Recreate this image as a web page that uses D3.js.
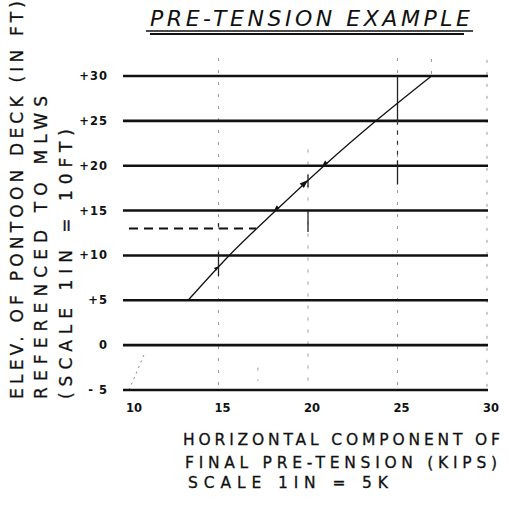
<!DOCTYPE html>
<html>
<head>
<meta charset="utf-8">
<script src="https://cdn.jsdelivr.net/npm/d3@7"></script>
<style>
  html, body { margin: 0; padding: 0; background: #fff; }
  svg { display: block; }
  text { font-family: "DejaVu Sans", "Liberation Sans", sans-serif; fill: #111; }
</style>
</head>
<body>
<svg id="chart" width="509" height="506"></svg>
<script>
// Elevation tick values (ft) and tension tick values (kips)
const elevTicks = [-5, 0, 5, 10, 15, 20, 25, 30];
const elevTickLabels = ["- 5", "0", "+5", "+10", "+15", "+20", "+25", "+30"];
const tensionTicks = [10, 15, 20, 25, 30];
const tensionTickLabels = ["10", "15", "20", "25", "30"];

// Pre-tension curve: horizontal component (kips) vs deck elevation (ft)
const curveTension = [13.3, 15.6, 18.2, 20.9, 23.8, 26.9];
const curveElev = [5, 10, 15, 20, 25, 30];

// Worked example: deck at +13 ft reads off about 17 kips
const exampleElev = 13;
const exampleTension = 17.1;

// Construction marks on the verticals (kips, from ft, to ft)
const markTension = [25, 25, 20, 20, 15, 15];
const markFrom = [30, 20.6, 19.0, 15.0, 13.6, 10.4];
const markTo = [25, 17.9, 17.6, 12.6, 13.2, 7.7];

// Faint pencil guides (kips, from ft, to ft)
const guideTension = [15, 20, 25, 30, 26.9, 17.2];
const guideFrom = [32, 21.8, 32, 31.8, 31.9, -2.5];
const guideTo = [-5, -5, -5, -5, 30, -4];

const svg = d3.select("#chart");

const x = d3.scaleLinear().domain([10, 30]).range([129, 487]);
const y = d3.scaleLinear().domain([-5, 30]).range([390, 76]);

// Title
svg.append("text")
  .attr("x", 150).attr("y", 26)
  .attr("font-size", 22).attr("font-style", "italic")
  .attr("textLength", 320).attr("lengthAdjust", "spacing")
  .text("PRE-TENSION EXAMPLE");
svg.append("line").attr("x1", 146).attr("x2", 473).attr("y1", 31).attr("y2", 31)
  .attr("stroke", "#111").attr("stroke-width", 1.4);
svg.append("line").attr("x1", 150).attr("x2", 464).attr("y1", 34).attr("y2", 34)
  .attr("stroke", "#111").attr("stroke-width", 2.2);

// Faint dotted guides
const guides = svg.append("g");
guideTension.forEach((t, i) => {
  guides.append("line")
    .attr("x1", x(t)).attr("x2", x(t))
    .attr("y1", y(guideFrom[i])).attr("y2", y(guideTo[i]))
    .attr("stroke", "#999").attr("stroke-width", 1)
    .attr("stroke-dasharray", "3,9");
});
// faint extension of the curve below +5
guides.append("line")
  .attr("x1", x(10)).attr("y1", y(-5))
  .attr("x2", x(10.9)).attr("y2", y(-0.8))
  .attr("stroke", "#888").attr("stroke-width", 1)
  .attr("stroke-dasharray", "2,4");

// Horizontal grid lines at each elevation tick
const grid = svg.append("g");
grid.selectAll("line").data(elevTicks).join("line")
  .attr("x1", x(10) - 6).attr("x2", x(30) + 1)
  .attr("y1", d => y(d)).attr("y2", d => y(d))
  .attr("stroke", "#111").attr("stroke-width", 2.6);

// Elevation tick labels
svg.append("g").selectAll("text").data(elevTicks).join("text")
  .attr("x", 108).attr("y", d => y(d) + 4)
  .attr("text-anchor", "end")
  .attr("font-size", 11.5).attr("font-weight", "bold")
  .attr("letter-spacing", 1)
  .text((d, i) => elevTickLabels[i]);

// Tension tick labels
svg.append("g").selectAll("text").data(tensionTicks).join("text")
  .attr("x", d => x(d) + (d === 10 ? 5 : 4)).attr("y", 412)
  .attr("text-anchor", "middle")
  .attr("font-size", 11.5).attr("font-weight", "bold")
  .text((d, i) => tensionTickLabels[i]);

// Construction marks
const marks = svg.append("g");
markTension.forEach((t, i) => {
  marks.append("line")
    .attr("x1", x(t)).attr("x2", x(t))
    .attr("y1", y(markFrom[i])).attr("y2", y(markTo[i]))
    .attr("stroke", "#222").attr("stroke-width", 1.3);
});
// dashes between the solid marks on the 25-kip vertical
marks.append("line")
  .attr("x1", x(25)).attr("x2", x(25))
  .attr("y1", y(25)).attr("y2", y(20.6))
  .attr("stroke", "#333").attr("stroke-width", 1.2)
  .attr("stroke-dasharray", "4,6");

// Example read-off: dashed line at +13 ft
svg.append("line")
  .attr("x1", x(10)).attr("x2", x(exampleTension))
  .attr("y1", y(exampleElev)).attr("y2", y(exampleElev))
  .attr("stroke", "#111").attr("stroke-width", 2)
  .attr("stroke-dasharray", "9,6");

// Pre-tension curve
const pts = curveTension.map((t, i) => [t, curveElev[i]]);
svg.append("path")
  .datum(pts)
  .attr("fill", "none").attr("stroke", "#111").attr("stroke-width", 1.3)
  .attr("d", d3.line().curve(d3.curveMonotoneX).x(d => x(d[0])).y(d => y(d[1])));

// Arrowheads along the curve
function arrowAt(tx, ey, dirSign, size) {
  // direction follows the overall slope of the curve
  const ang = Math.atan2(y(30) - y(5), x(26.9) - x(13.3)) + (dirSign < 0 ? Math.PI : 0);
  const px = x(tx), py = y(ey);
  const a1 = ang + Math.PI - 0.35, a2 = ang + Math.PI + 0.35;
  svg.append("path")
    .attr("d", `M${px},${py}L${px + size * Math.cos(a1)},${py + size * Math.sin(a1)}L${px + size * Math.cos(a2)},${py + size * Math.sin(a2)}Z`)
    .attr("fill", "#111");
}
arrowAt(20.0, 18.4, 1, 9);
arrowAt(20.8, 20.0, -1, 6);
arrowAt(18.1, 15.0, -1, 6);
arrowAt(15.0, 8.8, 1, 5);

// Y-axis titles (rotated, three lines)
const yTitles = [
  { text: "ELEV. OF PONTOON DECK (IN FT)", cx: 23, len: 398 },
  { text: "REFERENCED TO MLWS", cx: 47, len: 303 },
  { text: "(SCALE 1IN = 10FT)", cx: 72, len: 270 }
];
yTitles.forEach(t => {
  svg.append("text")
    .attr("transform", `translate(${t.cx},399) rotate(-90)`)
    .attr("font-size", 17)
    .attr("stroke", "#111").attr("stroke-width", 0.3)
    .attr("textLength", t.len).attr("lengthAdjust", "spacing")
    .text(t.text);
});

// X-axis titles
const xTitles = [
  { text: "HORIZONTAL COMPONENT OF", x0: 183, yb: 445, len: 317 },
  { text: "FINAL PRE-TENSION (KIPS)", x0: 185, yb: 468, len: 312 },
  { text: "SCALE 1IN = 5K", x0: 188, yb: 488, len: 200 }
];
xTitles.forEach(t => {
  svg.append("text")
    .attr("x", t.x0).attr("y", t.yb)
    .attr("font-size", 15.5)
    .attr("stroke", "#111").attr("stroke-width", 0.3)
    .attr("textLength", t.len).attr("lengthAdjust", "spacing")
    .text(t.text);
});
</script>
</body>
</html>
